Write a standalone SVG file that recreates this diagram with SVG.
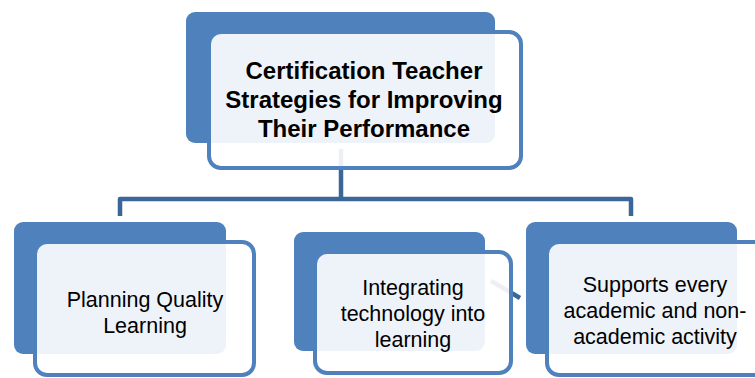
<svg xmlns="http://www.w3.org/2000/svg" width="755" height="378" viewBox="0 0 755 378">
<style>
.back{fill:#4F81BD;}
.front{fill:#FFFFFF;fill-opacity:0.9;stroke:#4F81BD;stroke-width:4;}
.conn{fill:none;stroke:#3C6698;stroke-width:4.5;stroke-linejoin:round;}
.t{font-family:"Liberation Sans",Arial,sans-serif;font-size:21.5px;fill:#000;text-anchor:middle;}
.tb{font-family:"Liberation Sans",Arial,sans-serif;font-size:24px;font-weight:bold;fill:#000;text-anchor:middle;}
</style>
<rect width="755" height="378" fill="#FFFFFF"/>
<g id="connectors">
<path class="conn" d="M341 149 V199"/>
<path class="conn" d="M120 216 V199 H631 V216"/>
<path class="conn" d="M491 281 L520 298"/>
</g>
<g id="node-top">
<rect class="back" x="186" y="12" width="309" height="131" rx="9"/>
<rect class="front" x="209" y="32" width="312" height="136" rx="12"/>
<text class="tb" x="364" y="79">Certification Teacher</text>
<text class="tb" x="364" y="108">Strategies for Improving</text>
<text class="tb" x="364" y="137">Their Performance</text>
</g>
<g id="node-left">
<rect class="back" x="14" y="222" width="212" height="132" rx="9"/>
<rect class="front" x="35" y="242" width="219" height="133" rx="12"/>
<text class="t" x="145" y="307">Planning Quality</text>
<text class="t" x="145" y="333">Learning</text>
</g>
<g id="node-middle">
<rect class="back" x="294" y="232" width="191" height="119" rx="9"/>
<rect class="front" x="315" y="252" width="196" height="121" rx="12"/>
<text class="t" x="413" y="295">Integrating</text>
<text class="t" x="413" y="321">technology into</text>
<text class="t" x="413" y="347">learning</text>
</g>
<g id="node-right">
<rect class="back" x="526" y="222" width="211" height="132" rx="9"/>
<rect class="front" x="547" y="242" width="220" height="133" rx="12"/>
<text class="t" x="655" y="292">Supports every</text>
<text class="t" x="655" y="318">academic and non-</text>
<text class="t" x="655" y="344">academic activity</text>
</g>
</svg>
